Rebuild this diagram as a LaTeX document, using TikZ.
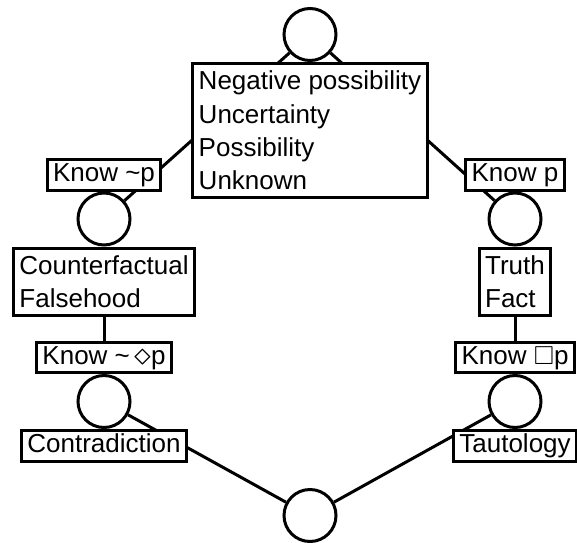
\documentclass[tikz,border=0pt]{standalone}
\usepackage{amssymb}
\usepackage{fontspec}
\setmainfont{Liberation Sans}
\usetikzlibrary{positioning}
\tikzstyle{world} = [circle, draw, line width=3pt,
inner sep=0pt, minimum size=52pt]
\tikzstyle{knowbox} = [draw, fill=white, line width=3pt,
inner xsep=6pt, inner ysep=3pt,
text height=19pt, text depth=5.5pt]
\tikzstyle{statebox} = [draw, fill=white, line width=3pt,
inner xsep=6pt, inner ysep=7.5pt, align=left]
\tikzstyle{link} = [line width=3pt]

\begin{document}
\begin{tikzpicture}[x=1pt, y=1pt, font=\fontsize{26}{33.3}\selectfont]
	\useasboundingbox (0,0) rectangle (577,542);
	\coordinate (a) at (310, 507.5);
	\coordinate (b) at (104, 323);
	\coordinate (c) at (515, 323);
	\coordinate (d) at (104, 140.5);
	\coordinate (e) at (515, 140.5);
	\coordinate (f) at (310, 26.5);
	\node[world] (top) at (a) {};
	\node[world] (falseW) at (b) {};
	\node[world] (trueW) at (c) {};
	\node[world] (contraW) at (d) {};
	\node[world] (tautoW) at (e) {};
	\node[world] (bottom) at (f) {};
	%% Links between worlds
	\draw[link] (top) -- (falseW);
	\draw[link] (top) -- (trueW);
	\draw[link] (falseW) -- (contraW);
	\draw[link] (trueW) -- (tautoW);
	\draw[link] (contraW) -- (bottom);
	\draw[link] (tautoW) -- (bottom);
	%% Boxes over the links
	\node[statebox, below=0pt of top] (unknown) {Negative possibility\\Uncertainty\\Possibility\\Unknown};
	\node[knowbox, above=0pt of falseW] (knowNot) {Know \textasciitilde p};
	\node[statebox, below=0pt of falseW] (falsehood) {Counterfactual\\Falsehood};
	\node[knowbox, above=0pt of trueW] (knowP) {Know p};
	\node[statebox, below=0pt of trueW] (truth) {Truth\\Fact};
	\node[knowbox, above=0pt of contraW] (knowNotPoss) {Know \textasciitilde\,\raisebox{-1pt}{\scalebox{1.35}{$\diamond$}}p};
	\node[knowbox, below=0pt of contraW] (contra) {Contradiction};
	\node[knowbox, above=0pt of tautoW] (knowNec) {Know $\Box$p};
	\node[knowbox, below=0pt of tautoW] (tauto) {Tautology};
\end{tikzpicture}
\end{document}
